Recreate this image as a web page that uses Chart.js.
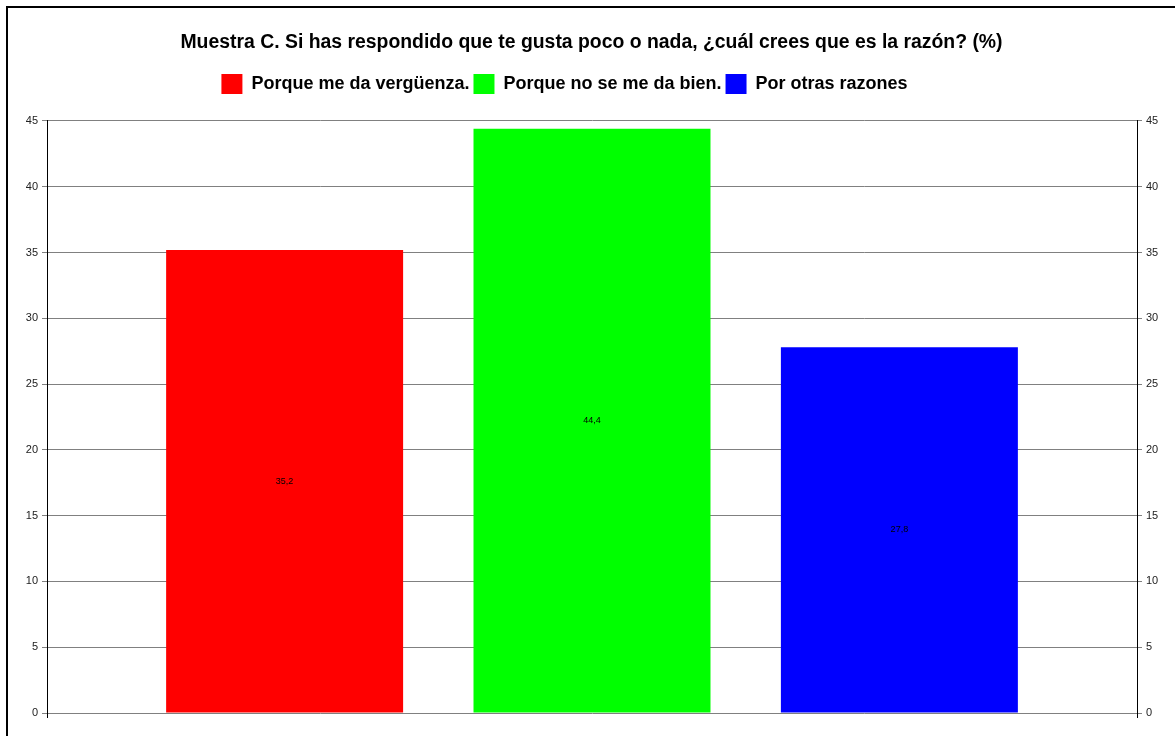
<!DOCTYPE html>
<html lang="es">
<head>
    <meta charset="UTF-8">
    <title>Muestra C</title>
    <script src="https://cdn.jsdelivr.net/npm/chart.js"></script>
    <style>
        html, body {
            margin: 0;
            padding: 0;
            background: #fff;
            overflow: hidden;
        }

        .frame {
            position: absolute;
            left: 6px;
            top: 6px;
            width: 1300px;
            height: 900px;
            border-left: 2px solid #000;
            border-top: 2px solid #000;
        }

        .wrap {
            position: absolute;
            left: 0;
            top: 0;
            width: 1175px;
            height: 736px;
        }
    </style>
</head>
<body>
    <div class="frame"></div>
    <div class="wrap">
        <canvas id="razonChart"></canvas>
    </div>

    <script>
        const respuestas = ['Porque me da vergüenza.', 'Porque no se me da bien.', 'Por otras razones'];
        const porcentajes = [35.2, 44.4, 27.8];
        const colores = ['#ff0000', '#00ff00', '#0000ff'];

        // value written in the middle of each bar, with a decimal comma
        const valueLabels = {
            id: 'valueLabels',
            afterDatasetsDraw(chart) {
                const ctx = chart.ctx;
                ctx.save();
                ctx.font = '9px "Liberation Sans", Arial, sans-serif';
                ctx.fillStyle = '#000';
                ctx.textAlign = 'center';
                ctx.textBaseline = 'middle';
                chart.data.datasets.forEach((ds, i) => {
                    const bar = chart.getDatasetMeta(i).data[0];
                    const txt = String(ds.data[0]).replace('.', ',');
                    ctx.fillText(txt, bar.x, (bar.y + bar.base) / 2);
                });
                ctx.restore();
            }
        };

        // both value axes run a few pixels past the zero line
        const axisStubs = {
            id: 'axisStubs',
            afterDraw(chart) {
                const { ctx, chartArea } = chart;
                ctx.save();
                ctx.strokeStyle = '#000';
                ctx.lineWidth = 1;
                ctx.beginPath();
                [chartArea.left, chartArea.right].forEach(x => {
                    const px = Math.round(x) + 0.5;
                    ctx.moveTo(px, chartArea.bottom);
                    ctx.lineTo(px, chartArea.bottom + 5);
                });
                ctx.stroke();
                ctx.restore();
            }
        };

        // nudge title right and legend left of the canvas centre
        const headerShift = {
            id: 'headerShift',
            afterLayout(chart) {
                if (chart.titleBlock) {
                    chart.titleBlock.left += 4;
                    chart.titleBlock.right += 4;
                }
                if (chart.legend) {
                    chart.legend.left -= 23;
                    chart.legend.right -= 23;
                }
            }
        };

        const font = '"Liberation Sans", Arial, sans-serif';

        new Chart(document.getElementById('razonChart'), {
            type: 'bar',
            data: {
                labels: [''],
                datasets: respuestas.map((r, i) => ({
                    label: r,
                    data: [porcentajes[i]],
                    backgroundColor: colores[i],
                    borderWidth: 0,
                    categoryPercentage: 0.846,
                    barPercentage: 0.771
                }))
            },
            options: {
                responsive: true,
                maintainAspectRatio: false,
                animation: false,
                layout: {
                    padding: { left: 0, right: 0, top: 0, bottom: 23 }
                },
                plugins: {
                    title: {
                        display: true,
                        text: 'Muestra C. Si has respondido que te gusta poco o nada, ¿cuál crees que es la razón? (%)',
                        color: '#000',
                        font: { family: font, size: 19.4, weight: 'bold' },
                        padding: { top: 31, bottom: 15.7 }
                    },
                    legend: {
                        display: true,
                        labels: {
                            color: '#000',
                            font: { family: font, size: 18, weight: 'bold' },
                            boxWidth: 21,
                            boxHeight: 20,
                            padding: 4
                        }
                    },
                    // empty spacer between the legend and the plot
                    subtitle: {
                        display: true,
                        text: '',
                        weight: 500,
                        font: { size: 10 },
                        padding: { top: 0, bottom: 5 }
                    },
                    tooltip: { enabled: false }
                },
                scales: {
                    x: {
                        display: false
                    },
                    y: {
                        position: 'left',
                        min: 0,
                        max: 45,
                        ticks: {
                            stepSize: 5,
                            color: '#222',
                            font: { family: font, size: 11 },
                            padding: 4
                        },
                        grid: {
                            color: '#808080',
                            tickLength: 5
                        },
                        border: { color: '#000' },
                        afterFit(scale) { scale.width = 47; }
                    },
                    y2: {
                        position: 'right',
                        min: 0,
                        max: 45,
                        ticks: {
                            stepSize: 5,
                            color: '#222',
                            font: { family: font, size: 11 },
                            padding: 4
                        },
                        grid: {
                            drawOnChartArea: false,
                            color: '#808080',
                            tickLength: 5
                        },
                        border: { color: '#000' },
                        afterFit(scale) { scale.width = 38; }
                    }
                }
            },
            plugins: [valueLabels, axisStubs, headerShift]
        });
    </script>
</body>
</html>
